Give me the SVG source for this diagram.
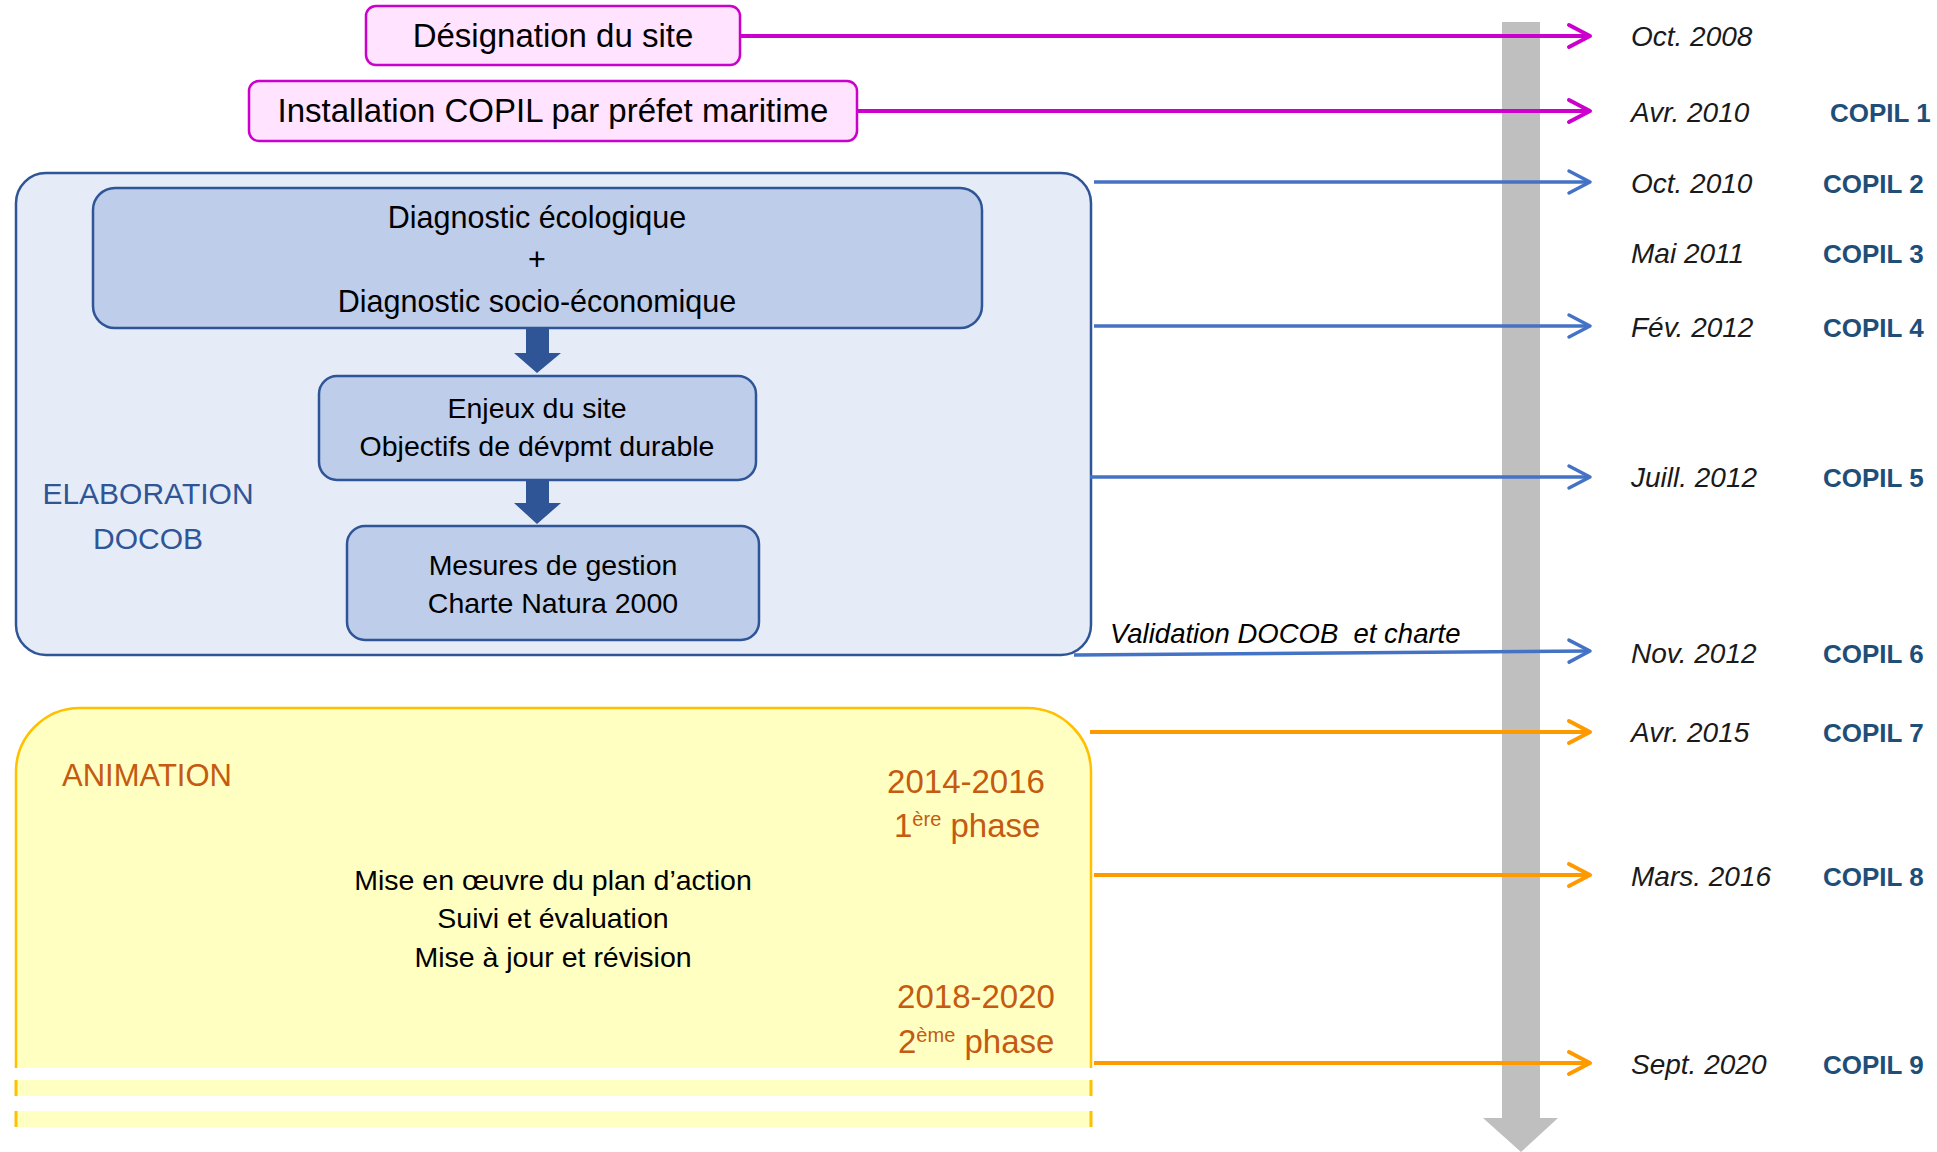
<svg xmlns="http://www.w3.org/2000/svg" width="1937" height="1152" viewBox="0 0 1937 1152">
<style>
  text { font-family: "Liberation Sans", Arial, sans-serif; }
  .pinkbox { fill: #FFE3FF; stroke: #CC00CC; stroke-width: 2.5; }
  .blue-in { fill: #BDCDEA; stroke: #2F5597; stroke-width: 2.5; }
  .lbl { font-size: 28.5px; fill: #000; text-anchor: middle; }
  .big { font-size: 33px; fill: #000; text-anchor: middle; }
  .date { font-size: 28px; font-style: italic; fill: #1a1a1a; }
  .copil { font-size: 26px; font-weight: bold; fill: #1F4E79; }
  .phase { font-size: 33px; fill: #C55A11; }
  .ln-pink { stroke: #CC00CC; stroke-width: 4; fill: none; marker-end: url(#hp); }
  .ln-blue { stroke: #4472C4; stroke-width: 3.5; fill: none; marker-end: url(#hb); }
  .ln-orange { stroke: #FF9900; stroke-width: 4; fill: none; marker-end: url(#ho); }
  .blk { fill: #2F5597; }
</style>
<defs>
  <marker id="hp" markerUnits="userSpaceOnUse" markerWidth="30" markerHeight="30" viewBox="-26 -15 30 30" refX="0" refY="0" orient="auto" overflow="visible">
    <path d="M-21,-11 L0,0 L-21,11" fill="none" stroke="#CC00CC" stroke-width="4" stroke-linecap="round" stroke-linejoin="round"/>
  </marker>
  <marker id="hb" markerUnits="userSpaceOnUse" markerWidth="30" markerHeight="30" viewBox="-26 -15 30 30" refX="0" refY="0" orient="auto" overflow="visible">
    <path d="M-21,-11 L0,0 L-21,11" fill="none" stroke="#4472C4" stroke-width="3.5" stroke-linecap="round" stroke-linejoin="round"/>
  </marker>
  <marker id="ho" markerUnits="userSpaceOnUse" markerWidth="30" markerHeight="30" viewBox="-26 -15 30 30" refX="0" refY="0" orient="auto" overflow="visible">
    <path d="M-21,-11 L0,0 L-21,11" fill="none" stroke="#FF9900" stroke-width="4" stroke-linecap="round" stroke-linejoin="round"/>
  </marker>
</defs>
<rect width="1937" height="1152" fill="#fff"/>

<g id="timeline-axis">
  <path d="M1502,22 H1540 V1118 H1558 L1521,1152 L1483,1118 H1502 Z" fill="#BFBFBF"/>
</g>

<g id="elaboration">
  <rect x="16" y="173" width="1075" height="482" rx="30" ry="30" fill="#E5ECF7" stroke="#2F5597" stroke-width="2.5"/>
  <text x="148" y="504" font-size="30" fill="#2F5597" text-anchor="middle">ELABORATION</text>
  <text x="148" y="549" font-size="30" fill="#2F5597" text-anchor="middle">DOCOB</text>
</g>

<g id="animation">
  <path d="M16,1068 V772 A64,64 0 0 1 80,708 H1027 A64,64 0 0 1 1091,772 V1068 Z" fill="#FFFFC1" stroke="none"/>
  <path d="M16,1068 V772 A64,64 0 0 1 80,708 H1027 A64,64 0 0 1 1091,772 V1068" fill="none" stroke="#FFC000" stroke-width="2.5"/>
  <rect x="16" y="1080" width="1075" height="16" fill="#FFFFC1"/>
  <rect x="16" y="1111" width="1075" height="16" fill="#FFFFC1"/>
  <path d="M16,1080 V1096 M1091,1080 V1096 M16,1111 V1127 M1091,1111 V1127" stroke="#FFC000" stroke-width="3"/>
  <text x="62" y="786" font-size="31" fill="#C55A11">ANIMATION</text>
  <text x="966" y="793" class="phase" text-anchor="middle">2014-2016</text>
  <text x="894" y="837" class="phase">1<tspan dy="-11" font-size="20">ère</tspan><tspan dy="11"> phase</tspan></text>
  <text x="976" y="1008" class="phase" text-anchor="middle">2018-2020</text>
  <text x="898" y="1053" class="phase">2<tspan dy="-11" font-size="20">ème</tspan><tspan dy="11"> phase</tspan></text>
  <text x="553" y="890" class="lbl">Mise en œuvre du plan d’action</text>
  <text x="553" y="928" class="lbl">Suivi et évaluation</text>
  <text x="553" y="967" class="lbl">Mise à jour et révision</text>
</g>

<g id="designation">
  <rect x="366" y="6" width="374" height="59" rx="10" class="pinkbox"/>
  <text x="553" y="47" class="big">Désignation du site</text>
</g>

<g id="installation">
  <rect x="249" y="81" width="608" height="60" rx="10" class="pinkbox"/>
  <text x="553" y="122" class="big">Installation COPIL par préfet maritime</text>
</g>

<g id="diagnostic">
  <rect x="93" y="188" width="889" height="140" rx="22" class="blue-in"/>
  <text x="537" y="228" class="lbl" style="font-size:30.5px">Diagnostic écologique</text>
  <text x="537" y="270" class="lbl" style="font-size:30.5px">+</text>
  <text x="537" y="312" class="lbl" style="font-size:30.5px">Diagnostic socio-économique</text>
</g>

<g id="enjeux">
  <rect x="319" y="376" width="437" height="104" rx="18" class="blue-in"/>
  <text x="537" y="418" class="lbl">Enjeux du site</text>
  <text x="537" y="456" class="lbl">Objectifs de dévpmt durable</text>
</g>

<g id="mesures">
  <rect x="347" y="526" width="412" height="114" rx="18" class="blue-in"/>
  <text x="553" y="575" class="lbl">Mesures de gestion</text>
  <text x="553" y="613" class="lbl">Charte Natura 2000</text>
</g>

<g id="dates">
  <text x="1631" y="46" class="date">Oct. 2008</text>
  <text x="1631" y="122" class="date">Avr. 2010</text>
  <text x="1631" y="193" class="date">Oct. 2010</text>
  <text x="1631" y="263" class="date">Mai 2011</text>
  <text x="1631" y="337" class="date">Fév. 2012</text>
  <text x="1631" y="487" class="date">Juill. 2012</text>
  <text x="1631" y="663" class="date">Nov. 2012</text>
  <text x="1631" y="742" class="date">Avr. 2015</text>
  <text x="1631" y="886" class="date">Mars. 2016</text>
  <text x="1631" y="1074" class="date">Sept. 2020</text>
</g>

<g id="copils">
  <text x="1830" y="122" class="copil">COPIL 1</text>
  <text x="1823" y="193" class="copil">COPIL 2</text>
  <text x="1823" y="263" class="copil">COPIL 3</text>
  <text x="1823" y="337" class="copil">COPIL 4</text>
  <text x="1823" y="487" class="copil">COPIL 5</text>
  <text x="1823" y="663" class="copil">COPIL 6</text>
  <text x="1823" y="742" class="copil">COPIL 7</text>
  <text x="1823" y="886" class="copil">COPIL 8</text>
  <text x="1823" y="1074" class="copil">COPIL 9</text>
</g>

<g id="connectors">
  <path class="blk" d="M526,328 H549 V353 H561 L537,373 L514,353 H526 Z"/>
  <path class="blk" d="M526,480 H549 V503 H561 L537,524 L514,503 H526 Z"/>
  <line class="ln-pink" x1="740" y1="36" x2="1590" y2="36"/>
  <line class="ln-pink" x1="857" y1="111" x2="1590" y2="111"/>
  <line class="ln-blue" x1="1094" y1="182" x2="1590" y2="182"/>
  <line class="ln-blue" x1="1094" y1="326" x2="1590" y2="326"/>
  <line class="ln-blue" x1="1090" y1="477" x2="1590" y2="477"/>
  <line class="ln-blue" x1="1074" y1="655" x2="1590" y2="651"/>
  <line class="ln-orange" x1="1090" y1="732" x2="1590" y2="732"/>
  <line class="ln-orange" x1="1094" y1="875" x2="1590" y2="875"/>
  <line class="ln-orange" x1="1094" y1="1063" x2="1590" y2="1063"/>
  <text x="1110" y="643" font-size="27.5" font-style="italic" fill="#000" style="white-space:pre">Validation DOCOB  et charte</text>
</g>
</svg>
